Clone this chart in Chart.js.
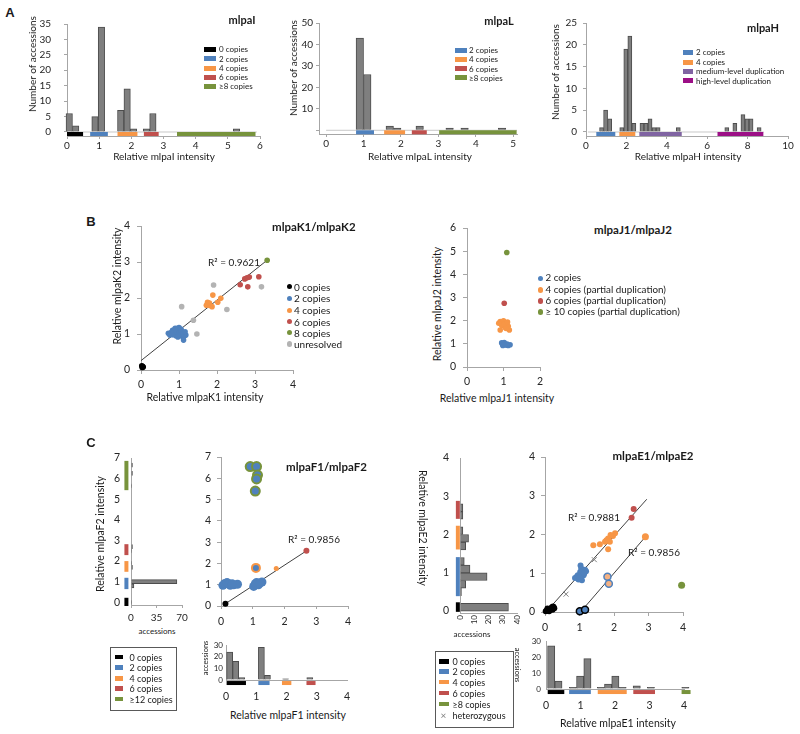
<!DOCTYPE html>
<html><head><meta charset="utf-8">
<script src="https://cdn.jsdelivr.net/npm/chart.js@4"></script>
<style>
body{margin:0;width:800px;height:734px;position:relative;background:#fff;overflow:hidden}
.box{position:absolute;border:1px solid #595959;background:#fff}
</style></head><body>
<script>
// ---------------- DATA ----------------
// Panel A: histograms (bin centres, counts) and copy-number intensity ranges
const I_bins = [0.07,0.27,0.87,1.07,1.67,1.87,2.07,2.47,2.67,5.27];
const I_counts = [6,2,5,34,7,14,1,1,6,1];
const I_ranges = [[0,0.5],[0.72,1.27],[1.57,2.19],[2.39,2.85],[3.42,5.86]];
const I_classes = ['0 copies','2 copies','4 copies','6 copies','≥8 copies'];
const I_xticks = [0,1,2,3,4,5,6];
const I_yticks = [0,5,10,15,20,25,30,35];

const L_bins = [0.9,1.1,1.7,1.9,2.5,3.3,3.7,4.7];
const L_counts = [43,26,2,1,2,1,1,1];
const L_ranges = [[0.8,1.28],[1.55,2.11],[2.29,2.69],[3.02,5.09]];
const L_classes = ['2 copies','4 copies','6 copies','≥8 copies'];
const L_xticks = [0,1,2,3,4,5];
const L_yticks = [0,10,20,30,40,50];

const H_bins = [0.77,0.97,1.17,1.77,1.97,2.17,2.37,2.77,2.97,3.17,3.37,3.57,4.57,6.97,7.37,7.77,7.97,8.17,8.57];
const H_counts = [1,5,3,1,19,22,2,2,2,3,1,1,1,1,2,4,3,3,1];
const H_ranges = [[0.51,1.45],[1.65,2.44],[2.64,4.74],[6.51,8.78]];
const H_classes = ['2 copies','4 copies','medium-level duplication','high-level duplication'];
const H_xticks = [0,2,4,6,8,10];
const H_yticks = [0,5,10,15,20,25];

// Panel B: scatter (x = relative K1 / J1 intensity, y = relative K2 / J2 intensity)
const K_black = [[0.02,0.12],[0.04,0.1],[0.06,0.08],[0.03,0.07]];
const K_blue = [[0.72,1.02],[0.76,0.97],[0.8,1.05],[0.83,1.1],[0.85,0.98],[0.88,1.12],[0.9,1.03],[0.92,0.95],[0.94,1.15],[0.96,1.08],[0.98,1.0],[1.0,1.12],[1.02,1.05],[1.04,0.97],[1.06,1.1],[1.08,1.02],[1.1,0.92],[1.12,1.0],[1.14,0.95],[1.18,0.97],[1.12,0.83],[0.97,0.92],[0.86,1.06],[1.0,1.18],[0.9,1.16],[1.05,1.14],[0.82,0.99],[1.16,1.06]];
const K_orange = [[1.89,2.08],[1.75,1.88],[1.72,1.8],[1.82,1.79],[2.02,1.88],[2.1,1.99],[1.8,1.86],[1.87,1.76]];
const K_red = [[2.61,2.37],[2.73,2.53],[2.79,2.56],[2.85,2.58],[2.81,2.31],[3.1,2.59]];
const K_green = [[3.32,3.05]];
const K_gray = [[1.07,1.76],[1.38,1.38],[1.47,1.0],[1.91,2.36],[2.26,1.68],[3.17,2.31]];
const K_trend = [[0,0.26],[3.32,3.05]];
const K_classes = ['0 copies','2 copies','4 copies','6 copies','8 copies','unresolved'];
const K_ticks = [0,1,2,3,4];

const J_blue = [[0.95,1.04],[1.0,0.97],[1.07,0.94],[1.13,0.93],[1.18,0.96],[1.02,1.06],[1.1,0.99],[0.98,0.93]];
const J_orange = [[0.91,1.96],[1.0,1.99],[1.09,1.89],[0.95,1.8],[1.04,1.72],[1.13,1.76],[0.91,1.6],[1.16,1.6],[1.02,1.85],[1.07,1.66],[0.87,1.89],[1.11,1.94]];
const J_red = [[1.02,2.75]];
const J_green = [[1.09,4.94]];
const J_classes = ['2 copies','4 copies (partial duplication)','6 copies (partial duplication)','≥ 10 copies (partial duplication)'];
const J_xticks = [0,1,2];
const J_yticks = [0,1,2,3,4,5,6];

// Panel C left: mlpaF1 / mlpaF2
const F2_bins = [6.65,6.25,5.65,2.7,2.5,1.9,1.7,1.0,0.8,0.0];
const F2_counts = [2,2,1,2,1,1,2,63,4,1];
const F2_ranges = [[-0.18,0.22],[0.64,1.19],[1.48,2.0],[2.29,2.82],[5.44,6.86]];
const F1_bins = [0.12,0.32,0.52,1.17,1.37,1.97,2.77];
const F1_counts = [24,16,2,28,4,1,2];
const F1_ranges = [[0.02,0.66],[1.07,1.44],[1.85,2.16],[2.66,2.96]];
const F_green = [[0.92,6.55],[1.12,6.55],[1.15,6.15],[1.12,5.97],[1.08,5.4]];
const F_orangeRing = [[1.1,1.79]];
const F_orange = [[1.74,1.76]];
const F_red = [[2.69,2.59]];
const F_black = [[0.14,0.11]];
const F_blue = [[0.06,0.97],[0.12,1.06],[0.19,1.1],[0.29,0.97],[0.4,1.0],[0.52,1.02],[0.24,1.05],[0.35,1.04],[1.03,0.92],[1.08,1.05],[1.18,1.0],[1.29,1.13],[1.12,1.1],[1.22,1.08]];
const F_navy = [[0.19,0.97],[0.29,0.96],[0.5,1.02]];
const F_trend = [[0.14,0.11],[2.69,2.59]];
const F_classes = ['0 copies','2 copies','4 copies','6 copies','≥12 copies'];
const F_sideX = [0,35,70];
const F_ticks7 = [0,1,2,3,4,5,6,7];
const F_ticks4 = [0,1,2,3,4];
const acc30 = [0,10,20,30];

// Panel C right: mlpaE1 / mlpaE2
const E2_bins = [0.1,0.5,0.7,0.9,1.1,1.3,1.7,1.9,2.1,2.5,2.7];
const E2_counts = [34,1,4,19,7,3,4,6,2,2,2];
const E2_ranges = [[-0.02,0.23],[0.39,1.41],[1.61,2.23],[2.41,2.88]];
const E1_bins = [0.15,0.36,0.78,0.99,1.2,1.59,1.8,2.01,2.22,2.63,3.04,4.04];
const E1_counts = [27,5,1,8,19,1,3,8,1,2,1,1];
const E1_ranges = [[0.05,0.53],[0.67,1.3],[1.5,2.34],[2.53,3.16],[3.93,4.19]];
const E_red = [[2.57,2.66],[2.51,2.43]];
const E_orange = [[2.03,2.03],[1.97,1.96],[1.9,1.99],[1.83,1.9],[1.74,1.81],[1.59,1.75],[1.4,1.72],[1.83,1.62],[1.88,1.81],[1.78,1.85]];
const E_orangeBig = [[2.91,1.94]];
const E_ringBO = [[1.81,0.91],[1.85,0.73]];
const E_blue = [[1.03,1.2],[1.05,1.12],[1.1,1.06],[1.16,1.09],[0.92,0.91],[0.97,0.84],[1.07,0.82],[0.87,0.88],[1.12,0.95],[1.19,1.05],[1.02,1.03],[0.95,0.95],[1.0,0.9],[1.14,1.0]];
const E_black = [[0.02,0.02],[0.05,0.04],[0.08,0.05],[0.1,0.03],[0.13,0.08],[0.15,0.06],[0.18,0.1],[0.2,0.12],[0.23,0.14],[0.25,0.13],[0.12,0.02],[0.07,0.09],[0.22,0.06],[0.27,0.1]];
const E_ringBk = [[1.01,0.02],[1.16,0.06]];
const E_green = [[3.96,0.69]];
const E_het = [[0.61,0.46],[1.43,1.35]];
const E_trend1 = [[0.05,0.02],[2.95,2.91]];
const E_trend2 = [[1.01,-0.02],[2.93,1.96]];
const E_classes = ['0 copies','2 copies','4 copies','6 copies','≥8 copies','heterozygous'];
const E_sideX = [0,10,20,30,40];

// ---------------- STYLE ----------------
const F = "Lato, 'Liberation Sans', sans-serif";
const AX = '#a6a6a6', TC = '#262626';
const C = {black:'#000000', blue:'#4f81bd', orange:'#f79646', red:'#c0504d', green:'#77933c',
           purple:'#8064a2', magenta:'#9c0f86', gray:'#b3b3b3', navy:'#1f3a60', bar:'#7f7f7f'};

const pts = a => a.map(p => ({x:p[0], y:p[1]}));

function T(s, x, y, o = {}) {
  const d = document.createElement('div');
  d.textContent = s;
  const tx = o.al === 'l' ? '0' : '-50%';
  d.style.cssText = `position:absolute;left:${x}px;top:${y}px;font:${o.b ? 'bold ' : ''}${o.fs || 10}px ${o.ff || F};color:${o.c || '#1a1a1a'};white-space:nowrap;line-height:1;transform:translate(${tx},-50%)${o.rot ? ` rotate(${o.rot}deg)` : ''};`;
  document.body.appendChild(d);
  return d;
}
function R(x, y, w, h, c) {
  const d = document.createElement('div');
  d.style.cssText = `position:absolute;left:${x}px;top:${y}px;width:${w}px;height:${h}px;background:${c};`;
  document.body.appendChild(d);
}
function Dot(x, y, r, c) {
  const d = document.createElement('div');
  d.style.cssText = `position:absolute;left:${x - r}px;top:${y - r}px;width:${2 * r}px;height:${2 * r}px;border-radius:50%;background:${c};`;
  document.body.appendChild(d);
}

function histBars(bins, counts, horiz) {
  return {type:'bar', indexAxis: horiz ? 'y' : 'x',
    data: bins.map((b, i) => horiz ? {x: counts[i], y: b} : {x: b, y: counts[i]}),
    backgroundColor: C.bar, borderColor: '#4d4d4d', borderWidth: 1,
    barPercentage: 1, categoryPercentage: 1, clip: false, order: 2};
}
function rangeSegs(ranges, cols, level, width, vertical) {
  return ranges.map((r, i) => ({type:'scatter', showLine:true, clip:false, order:1,
    data: vertical ? [{x: level, y: r[0]}, {x: level, y: r[1]}] : [{x: r[0], y: level}, {x: r[1], y: level}],
    borderColor: C[cols[i]], borderWidth: width, pointRadius: 0, borderCapStyle: 'butt'}));
}
function lineSeg(a, col, w) {
  return {type:'scatter', showLine:true, clip:false, data: pts(a), borderColor: col, borderWidth: w || 1, pointRadius: 0, order: 3};
}
function scat(a, fill, r, border, bw, style) {
  return {type:'scatter', clip:false, data: pts(a), backgroundColor: fill, borderColor: border || fill,
    borderWidth: bw || 0, pointBorderWidth: bw || 0, pointRadius: r, pointStyle: style || 'circle', order: 0};
}

function mkChart(o) {
  const L = o.l - o.yW, T0 = o.t - o.pT;
  const W = o.r - o.l + o.yW + o.pR, H = o.b - o.t + o.pT + o.xH;
  const cv = document.createElement('canvas');
  cv.width = W; cv.height = H;
  cv.style.cssText = `position:absolute;left:${L}px;top:${T0}px;width:${W}px;height:${H}px`;
  document.body.appendChild(cv);
  const axis = isX => {
    const p = isX ? o.x : o.y;
    return {
      type: 'linear', min: p.min, max: p.max, offset: false,
      afterBuildTicks: s => { s.ticks = p.ticks.map(v => ({value: v})); },
      afterFit: s => {
        if (isX) { s.height = o.xH; s.paddingLeft = 0; s.paddingRight = 0; }
        else { s.width = o.yW; s.paddingTop = 0; s.paddingBottom = 0; }
      },
      border: {display: p.border !== false, color: AX, width: 1},
      grid: {display: true, offset: false, drawOnChartArea: false, drawTicks: (p.tl || 0) > 0, tickLength: p.tl || 0, color: AX},
      ticks: {autoSkip: false, padding: p.pad || 0, color: TC, font: {family: F, size: p.fs || 10},
        minRotation: p.rot || 0, maxRotation: p.rot || 0,
        callback: v => (p.hide && p.hide.includes(v)) ? '' : String(v)}
    };
  };
  new Chart(cv, {type: 'scatter', data: {datasets: o.ds}, options: {
    responsive: false, animation: false, devicePixelRatio: 1, events: [],
    layout: {padding: {left: 0, right: o.pR, top: o.pT, bottom: 0}},
    plugins: {legend: {display: false}, tooltip: {enabled: false}},
    scales: {x: axis(true), y: axis(false)}
  }});
}

// ---------------- PANEL A ----------------
T('A', 10, 12, {b:true, fs:13, ff:"'Liberation Sans', Arial, sans-serif"});
mkChart({l:67, t:24, r:260, b:136, yW:30, xH:24, pT:8, pR:8,
  x:{min:0, max:6, ticks:I_xticks, tl:3, pad:1},
  y:{min:-1.3, max:35, ticks:I_yticks, tl:3, pad:13},
  ds:[histBars(I_bins, I_counts), lineSeg([[0,0],[5.9,0]], '#c8c8c8', 1),
      ...rangeSegs(I_ranges, ['black','blue','orange','red','green'], -0.65, 4)]});
T('mlpaI', 242, 19, {b:true, fs:11});
T('Number of accessions', 32, 64, {fs:10, rot:-90});
T('Relative mlpaI intensity', 164, 156, {fs:10});
['black','blue','orange','red','green'].forEach((c, i) => {
  const y = [49, 58.7, 68.3, 77.3, 86.3][i];
  R(204, y - 2.5, 12, 5, C[c]); T(I_classes[i], 219, y, {fs:8, al:'l'});
});

mkChart({l:319, t:23, r:517, b:134, yW:22, xH:24, pT:8, pR:8,
  x:{min:-0.19, max:5.1, ticks:L_xticks, tl:3, pad:1},
  y:{min:-1.73, max:50, ticks:L_yticks, hide:[0], tl:3, pad:3},
  ds:[histBars(L_bins, L_counts), lineSeg([[0,0],[5.1,0]], '#c8c8c8', 1),
      ...rangeSegs(L_ranges, ['blue','orange','red','green'], -0.93, 4)]});
T('mlpaL', 499, 20, {b:true, fs:11});
T('Number of accessions', 293, 68, {fs:10, rot:-90});
T('Relative mlpaL intensity', 420, 156, {fs:10});
['blue','orange','red','green'].forEach((c, i) => {
  const y = [50, 59.3, 68.7, 77.7][i];
  R(455, y - 2.5, 12, 5, C[c]); T(L_classes[i], 469, y, {fs:8, al:'l'});
});

mkChart({l:586, t:23, r:788, b:136, yW:32, xH:24, pT:8, pR:8,
  x:{min:0, max:10, ticks:H_xticks, tl:3, pad:1},
  y:{min:-0.92, max:25, ticks:H_yticks, tl:3, pad:6},
  ds:[histBars(H_bins, H_counts), lineSeg([[0.1,0],[8.8,0]], '#c8c8c8', 1),
      ...rangeSegs(H_ranges, ['blue','orange','purple','magenta'], -0.46, 4)]});
T('mlpaH', 763, 27, {b:true, fs:11});
T('Number of accessions', 555, 72, {fs:10, rot:-90});
T('Relative mlpaH intensity', 688, 156, {fs:10});
['blue','orange','purple','magenta'].forEach((c, i) => {
  const y = [52.3, 62, 71.3, 80.7][i];
  R(683, y - 2.5, 10, 5, C[c]); T(H_classes[i], 696, y, {fs:8, al:'l'});
});

// ---------------- PANEL B ----------------
T('B', 91, 221, {b:true, fs:13, ff:"'Liberation Sans', Arial, sans-serif"});
mkChart({l:141, t:226, r:293, b:370, yW:22, xH:24, pT:8, pR:8,
  x:{min:0, max:4, ticks:K_ticks, tl:4, pad:4, fs:10.5},
  y:{min:0, max:4, ticks:K_ticks, tl:4, pad:7, fs:10.5},
  ds:[lineSeg(K_trend, '#404040', 1),
      scat(K_gray, C.gray, 2.8), scat(K_blue, C.blue, 2.8), scat(K_orange, C.orange, 2.8),
      scat(K_red, C.red, 2.8), scat(K_green, C.green, 2.8), scat(K_black, C.black, 2.8)]});
T('mlpaK1/mlpaK2', 272, 227, {b:true, fs:11.5, al:'l'});
T('R² = 0.9621', 234, 262, {fs:10});
T('Relative mlpaK2 intensity', 117, 286, {fs:10.5, rot:-90});
T('Relative mlpaK1 intensity', 205, 397, {fs:10.5});
['black','blue','orange','red','green','gray'].forEach((c, i) => {
  const y = [286.7, 298.3, 310.3, 321.7, 332.7, 344][i];
  Dot(289.3, y, 2.6, C[c]); T(K_classes[i], 294, y, {fs:10, al:'l'});
});

mkChart({l:467, t:228, r:540, b:367, yW:22, xH:24, pT:8, pR:8,
  x:{min:0, max:2, ticks:J_xticks, tl:4, pad:4, fs:10.5},
  y:{min:0, max:6, ticks:J_yticks, tl:4, pad:7, fs:10.5},
  ds:[scat(J_blue, C.blue, 2.8), scat(J_orange, C.orange, 2.8), scat(J_red, C.red, 2.8), scat(J_green, C.green, 2.8)]});
T('mlpaJ1/mlpaJ2', 633, 230, {b:true, fs:11.5});
T('Relative mlpaJ2 intensity', 437, 304, {fs:10.5, rot:-90});
T('Relative mlpaJ1 intensity', 497, 398, {fs:10.5});
['blue','orange','red','green'].forEach((c, i) => {
  const y = [278.3, 290, 301, 312][i];
  Dot(540.7, y, 2.6, C[c]); T(J_classes[i], 545.5, y, {fs:9.8, al:'l'});
});

// ---------------- PANEL C left ----------------
T('C', 91, 442, {b:true, fs:13, ff:"'Liberation Sans', Arial, sans-serif"});
mkChart({l:131, t:458, r:182, b:605, yW:24, xH:20, pT:8, pR:8,
  x:{min:0, max:70, ticks:F_sideX, tl:3, pad:4},
  y:{min:-0.13, max:7, ticks:F_ticks7, tl:0, pad:11, fs:10.5},
  ds:[histBars(F2_bins, F2_counts, true),
      ...rangeSegs(F2_ranges, ['black','blue','orange','red','green'], -6.3, 4, true)]});
T('accessions', 157, 631, {fs:8});
T('Relative mlpaF2 intensity', 100, 534, {fs:10.5, rot:-90});

mkChart({l:221, t:457, r:348, b:606, yW:22, xH:24, pT:8, pR:8,
  x:{min:0, max:4, ticks:F_ticks4, tl:3, pad:6, fs:10.5},
  y:{min:0, max:7, ticks:F_ticks7, tl:4, pad:6, fs:10.5},
  ds:[lineSeg(F_trend, '#404040', 1),
      scat(F_blue, C.blue, 4.5), scat(F_navy, C.navy, 2.6),
      scat(F_green, C.blue, 4.5, C.green, 2), scat(F_orangeRing, C.blue, 4, C.orange, 2),
      scat(F_orange, C.orange, 2.5), scat(F_red, C.red, 3), scat(F_black, C.black, 3)]});
T('mlpaF1/mlpaF2', 286, 467, {b:true, fs:11.5, al:'l'});
T('R² = 0.9856', 314, 539, {fs:10});

mkChart({l:226, t:645, r:347, b:680, yW:16, xH:22, pT:8, pR:8,
  x:{min:0, max:4, ticks:F_ticks4, tl:0, pad:10, fs:10.5},
  y:{min:0, max:30, ticks:acc30, tl:0, pad:3, fs:8},
  ds:[histBars(F1_bins, F1_counts), ...rangeSegs(F1_ranges, ['black','blue','orange','red'], -2.6, 4)]});
T('accessions', 206, 658, {fs:7.5, rot:-90});
T('Relative mlpaF1 intensity', 288, 715, {fs:10.5});

(() => { const d = document.createElement('div'); d.className = 'box';
  d.style.cssText += 'left:110px;top:647px;width:65px;height:62px;'; document.body.appendChild(d); })();
['black','blue','orange','red','green'].forEach((c, i) => {
  const y = [656.7, 667.3, 678, 688.3, 698.7][i];
  R(115, y - 2, 8, 4.5, C[c]); T(F_classes[i], 129.5, y, {fs:9, al:'l'});
});

// ---------------- PANEL C right ----------------
mkChart({l:460, t:458, r:517, b:613, yW:22, xH:18, pT:8, pR:8,
  x:{min:0, max:40, ticks:E_sideX, tl:0, pad:2, fs:8, rot:90},
  y:{min:-0.05, max:4, ticks:F_ticks4, tl:0, pad:11, fs:10.5},
  ds:[histBars(E2_bins, E2_counts, true),
      ...rangeSegs(E2_ranges, ['black','blue','orange','red'], -1.5, 4, true)]});
T('accessions', 472, 634, {fs:8});
T('Relative mlpaE2 intensity', 423, 528, {fs:10.5, rot:90});

mkChart({l:545, t:457, r:683, b:612, yW:22, xH:24, pT:8, pR:8,
  x:{min:0, max:4, ticks:F_ticks4, tl:4, pad:5, fs:10.5},
  y:{min:0, max:4, ticks:F_ticks4, tl:4, pad:6, fs:10.5},
  ds:[lineSeg(E_trend1, '#404040', 1), lineSeg(E_trend2, '#404040', 1),
      scat(E_blue, C.blue, 3), scat(E_orange, C.orange, 3), scat(E_red, C.red, 3),
      scat(E_orangeBig, C.orange, 3.5), scat(E_orangeBig, C.red, 1.5),
      scat(E_ringBO, '#f4b183', 3.5, C.blue, 1.5), scat(E_ringBk, C.blue, 3.5, '#000', 1.5),
      scat(E_black, C.black, 3), scat(E_green, C.green, 3.5),
      scat(E_het, '#808080', 3.5, '#808080', 1, 'crossRot')]});
T('mlpaE1/mlpaE2', 653, 456, {b:true, fs:11.5});
T('R² = 0.9881', 594, 517, {fs:10});
T('R² = 0.9856', 654, 552, {fs:10});

mkChart({l:546, t:641, r:684, b:689, yW:16, xH:22, pT:8, pR:8,
  x:{min:0, max:4, ticks:F_ticks4, tl:0, pad:10, fs:10.5},
  y:{min:0, max:30, ticks:acc30, tl:0, pad:5, fs:8},
  ds:[histBars(E1_bins, E1_counts), ...rangeSegs(E1_ranges, ['black','blue','orange','red','green'], -1.9, 4)]});
T('accessions', 517, 665, {fs:7.5, rot:90});
T('Relative mlpaE1 intensity', 618, 723, {fs:10.5});

(() => { const d = document.createElement('div'); d.className = 'box';
  d.style.cssText += 'left:435px;top:651px;width:77px;height:75px;'; document.body.appendChild(d); })();
['black','blue','orange','red','green'].forEach((c, i) => {
  const y = [661, 671, 681.7, 692.7, 703.7][i];
  R(438.5, y - 2, 10, 4.5, C[c]); T(E_classes[i], 452.5, y, {fs:9, al:'l'});
});
T('×', 443.5, 715.3, {fs:10, c:'#808080'});
T(E_classes[5], 452.5, 715.3, {fs:9, al:'l'});
</script>
</body></html>
